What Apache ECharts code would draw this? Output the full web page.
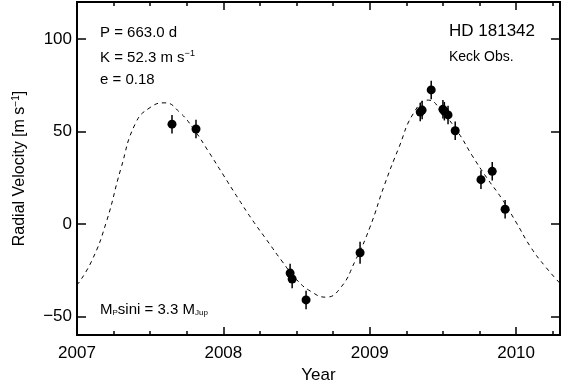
<!DOCTYPE html>
<html>
<head>
<meta charset="utf-8">
<script src="https://cdn.jsdelivr.net/npm/echarts@6/dist/echarts.min.js"></script>
<style>
  html, body { margin: 0; padding: 0; background: #fff; }
  #chart { width: 567px; height: 389px; }
</style>
</head>
<body>
<div id="chart"></div>
<script>
// observations (year, RV m/s, error m/s)
const obsYear = [2007.649, 2007.813, 2008.456, 2008.47, 2008.565, 2008.934, 2009.345, 2009.358,
  2009.42, 2009.50, 2009.51, 2009.535, 2009.584, 2009.76, 2009.837, 2009.925];
const obsRV = [54, 51.4, -26.5, -29.7, -41, -15.5, 60.5, 61.6, 72.5, 62, 61, 59, 50.4, 24, 28.5, 8];
const obsErr = [5, 5, 5, 5, 5, 6, 5, 5, 5, 5, 5, 5, 5, 5, 5, 5];

// keplerian fit, every 0.1 yr
const fitYear = [2007.0, 2007.1, 2007.2, 2007.3, 2007.4, 2007.5, 2007.6, 2007.7, 2007.8, 2007.9,
  2008.0, 2008.1, 2008.2, 2008.3, 2008.4, 2008.5, 2008.6, 2008.7, 2008.8, 2008.9,
  2009.0, 2009.1, 2009.2, 2009.3, 2009.4, 2009.5, 2009.6, 2009.7, 2009.8, 2009.9,
  2010.0, 2010.1, 2010.2, 2010.3];
const fitRV = [-33, -20, 1, 30, 54.5, 63, 65.5, 60.5, 51, 39,
  26.5, 14, 2, -9, -20, -30, -36.5, -39.5, -34.5, -20,
  -2, 21, 41.5, 60, 67, 60, 50, 37, 25, 14,
  1, -12.5, -23, -32];

const yTicks = [-50, 0, 50, 100];
const xMajor = [2007, 2008, 2009, 2010];
const xMinor = [2007.25, 2007.5, 2007.75, 2008.25, 2008.5, 2008.75, 2009.25, 2009.5, 2009.75, 2010.25];

const font = '"Liberation Sans", Arial, sans-serif';
const frame = { show: true, onZero: false, lineStyle: { color: '#000', width: 2 } };

function xAx(pos, ticks, len, labels) {
  return {
    type: 'value', position: pos, min: 2007, max: 2010.3,
    axisLine: frame,
    splitLine: { show: false },
    axisTick: { show: true, inside: true, length: len, customValues: ticks, lineStyle: { color: '#000', width: 1.5 } },
    axisLabel: labels
      ? { show: true, customValues: xMajor, color: '#000', fontFamily: font, fontSize: 17, margin: 10, formatter: v => String(v) }
      : { show: false }
  };
}

const chart = echarts.init(document.getElementById('chart'));

chart.setOption({
  animation: false,
  grid: { left: 77, right: 7, top: 2, bottom: 49 },
  xAxis: [
    Object.assign(xAx('bottom', xMajor, 8, true), {
      name: 'Year', nameLocation: 'middle', nameGap: 29,
      nameTextStyle: { color: '#000', fontFamily: font, fontSize: 17 }
    }),
    xAx('bottom', xMinor, 4, false),
    xAx('top', xMajor, 8, false),
    xAx('top', xMinor, 4, false)
  ],
  yAxis: [
    {
      type: 'value', position: 'left', min: -60, max: 120,
      axisLine: frame, splitLine: { show: false },
      axisTick: { show: true, inside: true, length: 9, customValues: yTicks, lineStyle: { color: '#000', width: 1.5 } },
      axisLabel: {
        show: true, customValues: yTicks, color: '#000', fontFamily: font, fontSize: 17, margin: 5,
        formatter: v => (v < 0 ? '\u2212' + Math.abs(v) : String(v))
      },
      name: '{t|Radial Velocity [m s}{sup|\u22121}{t|]}',
      nameLocation: 'middle', nameGap: 48,
      nameTextStyle: {
        rich: {
          t: { color: '#000', fontFamily: font, fontSize: 16 },
          sup: { color: '#000', fontFamily: font, fontSize: 10, padding: [0, 0, 8, 0] }
        }
      }
    },
    {
      type: 'value', position: 'right', min: -60, max: 120,
      axisLine: frame, splitLine: { show: false },
      axisTick: { show: true, inside: true, length: 9, customValues: yTicks, lineStyle: { color: '#000', width: 1.5 } },
      axisLabel: { show: false }
    }
  ],
  graphic: [
    { type: 'text', left: 100, top: 25, style: { text: 'P = 663.0 d', font: '15px ' + font, fill: '#000' } },
    {
      type: 'text', left: 100, top: 49,
      style: {
        text: '{t|K = 52.3 m s}{sup|\u22121}',
        rich: {
          t: { fontFamily: font, fontSize: 15, fill: '#000' },
          sup: { fontFamily: font, fontSize: 9, fill: '#000', padding: [0, 0, 8, 0] }
        }
      }
    },
    { type: 'text', left: 100, top: 72, style: { text: 'e = 0.18', font: '15px ' + font, fill: '#000' } },
    { type: 'text', left: 449, top: 23, style: { text: 'HD 181342', font: '17px ' + font, fill: '#000' } },
    { type: 'text', left: 449, top: 50, style: { text: 'Keck Obs.', font: '14px ' + font, fill: '#000' } },
    {
      type: 'text', left: 100, top: 302,
      style: {
        text: '{t|M}{sub|P}{t|sin}{t|i}{t| = 3.3 M}{sub|Jup}',
        rich: {
          t: { fontFamily: font, fontSize: 15, fill: '#000' },
          sub: { fontFamily: font, fontSize: 8, fill: '#000', padding: [6, 0, 0, 0] }
        }
      }
    }
  ],
  series: [
    {
      type: 'line', xAxisIndex: 0, yAxisIndex: 0,
      data: fitYear.map((x, i) => [x, fitRV[i]]),
      smooth: 0.5, showSymbol: false, symbol: 'none',
      lineStyle: { color: '#000', width: 1, type: [4, 4] },
      clip: true, z: 1
    },
    {
      type: 'custom', xAxisIndex: 0, yAxisIndex: 0,
      data: obsYear.map((x, i) => [x, obsRV[i], obsErr[i]]),
      renderItem: (params, api) => {
        const x = api.value(0), y = api.value(1), e = api.value(2);
        const a = api.coord([x, y + e]);
        const b = api.coord([x, y - e]);
        return {
          type: 'line',
          shape: { x1: a[0], y1: a[1], x2: b[0], y2: b[1] },
          style: { stroke: '#000', lineWidth: 1.5 }
        };
      },
      z: 2
    },
    {
      type: 'scatter', xAxisIndex: 0, yAxisIndex: 0,
      data: obsYear.map((x, i) => [x, obsRV[i]]),
      symbol: 'circle', symbolSize: 9,
      itemStyle: { color: '#000', opacity: 1 },
      z: 3
    }
  ]
});
</script>
</body>
</html>
